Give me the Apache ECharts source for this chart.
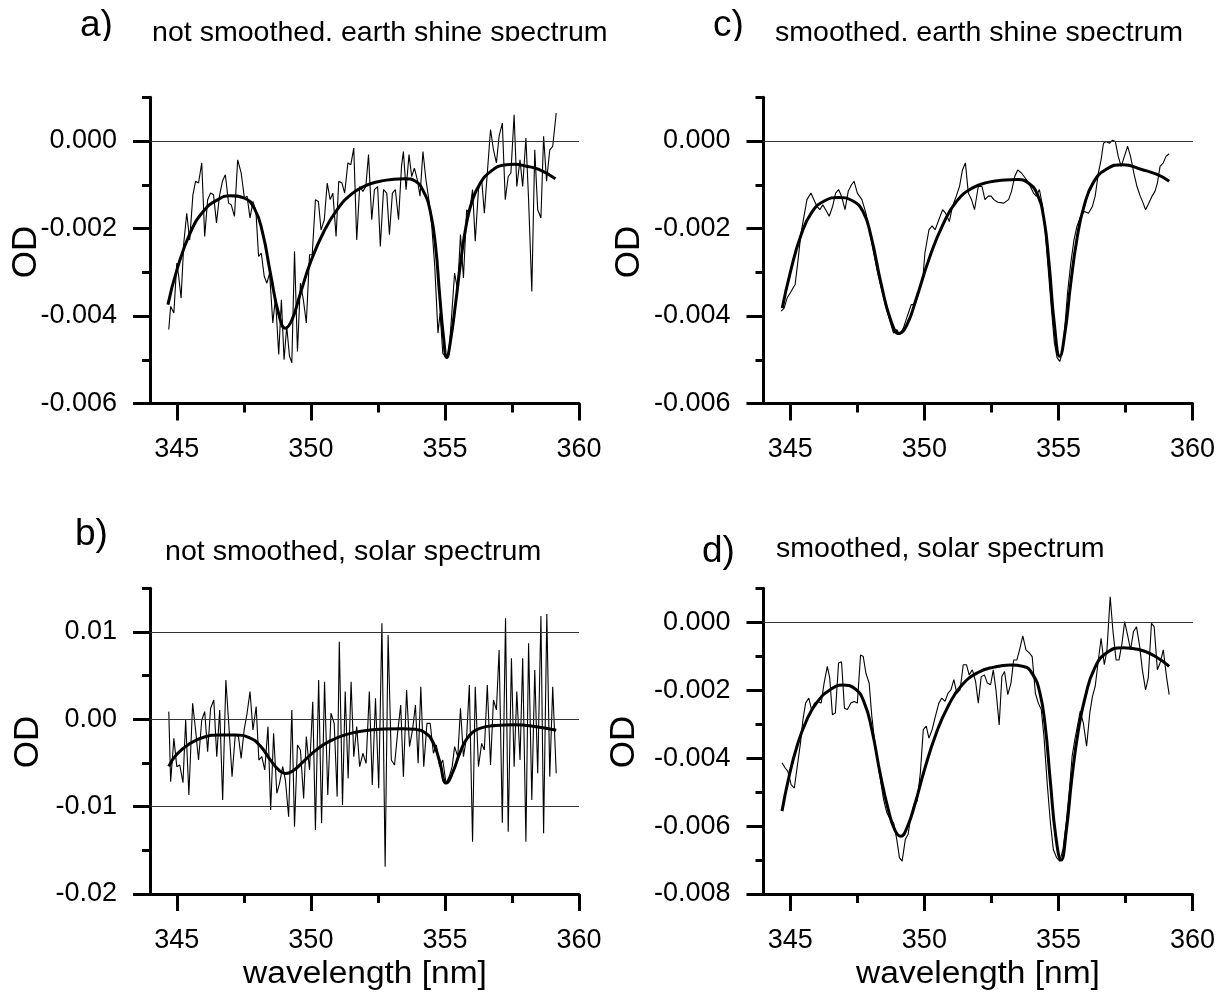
<!DOCTYPE html>
<html>
<head>
<meta charset="utf-8">
<script src="https://cdn.jsdelivr.net/npm/echarts@6/dist/echarts.min.js"></script>
<style>html,body{margin:0;padding:0;background:#fff}#c{width:1227px;height:996px}</style>
</head>
<body>
<div id="c"></div>
<script>
// ---- DATA (OD values in units of 1e-3) ----
const wlMajor = [345, 350, 355, 360];
const wlMinor = [347.5, 352.5, 357.5];

const odMajorA = [-0.006, -0.004, -0.002, 0];
const odMinorA = [-0.005, -0.003, -0.001, 0.001];
const gridValsA = [0, -0.002, -0.004];
const odMajorB = [-0.02, -0.01, 0, 0.01];
const odMinorB = [-0.015, -0.005, 0.005, 0.015];
const gridValsB = [0.01, 0, -0.01];
const odMajorD = [-0.008, -0.006, -0.004, -0.002, 0];
const odMinorD = [-0.007, -0.005, -0.003, -0.001, 0.001];
const gridValsD = [0, -0.002, -0.004, -0.006];

const noisyA = [[344.70,-4.31],[344.77,-3.78],[344.89,-3.93],[345.00,-2.79],[345.07,-3.09],[345.16,-3.59],[345.26,-2.33],[345.37,-1.65],[345.48,-2.26],[345.60,-1.23],[345.70,-0.92],[345.81,-0.96],[345.93,-0.50],[346.04,-2.18],[346.15,-1.34],[346.26,-1.19],[346.37,-1.23],[346.48,-1.87],[346.59,-1.26],[346.70,-0.92],[346.81,-0.77],[346.93,-1.42],[347.03,-1.46],[347.15,-1.72],[347.27,-0.43],[347.40,-0.73],[347.52,-1.30],[347.62,-1.26],[347.73,-1.76],[347.84,-1.38],[347.95,-1.61],[348.05,-2.64],[348.15,-2.56],[348.26,-3.09],[348.36,-3.25],[348.46,-3.02],[348.58,-4.16],[348.68,-3.59],[348.80,-4.88],[348.90,-3.63],[349.00,-5.00],[349.10,-4.24],[349.20,-4.91],[349.29,-5.07],[349.39,-2.52],[349.50,-4.81],[349.61,-3.25],[349.72,-3.63],[349.83,-4.16],[349.95,-2.60],[350.05,-2.60],[350.17,-1.34],[350.28,-1.38],[350.38,-2.03],[350.50,-1.80],[350.61,-0.96],[350.72,-1.34],[350.82,-1.19],[350.94,-2.18],[351.04,-0.92],[351.16,-0.96],[351.26,-1.19],[351.38,-0.50],[351.49,-0.54],[351.60,-0.16],[351.71,-2.26],[351.82,-1.04],[351.94,-1.15],[352.05,-1.04],[352.15,-0.31],[352.27,-1.80],[352.37,-1.11],[352.49,-1.04],[352.59,-2.41],[352.71,-1.11],[352.83,-1.19],[352.93,-2.14],[353.04,-1.19],[353.15,-1.11],[353.27,-1.80],[353.38,-0.58],[353.45,-0.24],[353.55,-1.11],[353.66,-0.31],[353.76,-0.81],[353.86,-0.62],[353.97,-0.88],[354.07,-1.26],[354.18,-0.24],[354.29,-0.88],[354.40,-1.34],[354.51,-1.95],[354.62,-2.86],[354.74,-4.39],[354.82,-3.93],[354.92,-4.85],[355.04,-4.96],[355.14,-4.88],[355.24,-4.08],[355.36,-3.02],[355.47,-3.40],[355.58,-2.14],[355.69,-3.13],[355.81,-1.57],[355.91,-1.65],[356.03,-1.11],[356.13,-2.29],[356.25,-1.11],[356.37,-0.88],[356.47,-1.65],[356.58,-0.73],[356.70,0.26],[356.81,-0.20],[356.92,-0.50],[357.02,0.11],[357.14,0.41],[357.25,-1.34],[357.36,-0.81],[357.46,-0.73],[357.58,0.60],[357.68,-1.04],[357.80,-0.43],[357.90,-1.04],[358.02,0.07],[358.12,-1.34],[358.24,-3.44],[358.35,-0.20],[358.46,-1.57],[358.58,-1.76],[358.68,0.11],[358.79,-0.92],[358.91,-0.20],[359.02,-0.12],[359.15,0.64]];
const fitA = [[344.67,-3.74],[345.00,-2.95],[345.50,-2.10],[346.00,-1.60],[346.50,-1.35],[347.00,-1.25],[347.50,-1.30],[347.90,-1.55],[348.20,-2.10],[348.50,-3.05],[348.80,-3.95],[349.05,-4.28],[349.30,-4.08],[349.60,-3.50],[350.00,-2.75],[350.50,-2.05],[351.00,-1.55],[351.50,-1.22],[352.00,-1.03],[352.50,-0.93],[353.00,-0.88],[353.50,-0.86],[353.90,-0.92],[354.20,-1.15],[354.45,-1.60],[354.65,-2.40],[354.80,-3.50],[354.95,-4.50],[355.07,-4.95],[355.20,-4.60],[355.40,-3.70],[355.60,-2.70],[355.80,-1.90],[356.00,-1.40],[356.30,-0.98],[356.70,-0.70],[357.20,-0.55],[357.60,-0.53],[358.00,-0.57],[358.50,-0.65],[359.12,-0.86]];

const noisyB = [[344.70,0.88],[344.77,-7.14],[344.89,-2.18],[345.00,-5.42],[345.11,-5.23],[345.23,-7.25],[345.33,-0.08],[345.45,-8.66],[345.59,1.83],[345.70,-1.22],[345.81,-4.66],[345.93,-0.08],[346.04,0.88],[346.15,-3.70],[346.26,1.26],[346.38,2.21],[346.49,-4.27],[346.60,1.07],[346.71,-9.24],[346.83,4.50],[346.94,-0.65],[347.06,-6.56],[347.18,-1.79],[347.30,-1.98],[347.40,-4.47],[347.51,-1.22],[347.62,0.69],[347.73,3.17],[347.84,-1.22],[347.96,1.45],[348.06,-4.66],[348.17,-4.27],[348.28,-5.80],[348.40,-0.84],[348.50,-10.38],[348.61,-1.60],[348.73,-8.47],[348.83,-7.33],[348.95,-5.42],[349.05,-6.95],[349.17,-11.15],[349.29,1.07],[349.39,-12.29],[349.50,-2.94],[349.61,-3.51],[349.73,-9.05],[349.83,-1.98],[349.95,-5.80],[350.07,2.02],[350.17,-12.67],[350.29,4.50],[350.40,-11.91],[350.51,4.31],[350.63,-8.66],[350.75,0.69],[350.87,-0.46],[350.98,-8.85],[351.06,8.89],[351.18,-9.81],[351.28,3.17],[351.39,-6.76],[351.50,4.31],[351.60,-4.27],[351.71,-0.84],[351.82,-5.42],[351.94,-3.89],[352.06,-5.04],[352.18,3.17],[352.29,-7.52],[352.41,2.40],[352.53,-7.90],[352.65,10.99],[352.77,-16.87],[352.88,9.66],[353.00,-4.66],[353.12,-5.23],[353.24,-1.41],[353.35,1.64],[353.45,-6.56],[353.57,3.36],[353.68,-3.13],[353.79,-1.22],[353.90,1.64],[354.00,-5.04],[354.10,3.74],[354.21,-5.42],[354.33,-0.46],[354.45,-0.46],[354.57,-3.89],[354.68,-2.94],[354.80,-5.42],[354.92,-4.66],[355.04,-7.33],[355.16,-6.56],[355.27,-5.42],[355.36,-3.13],[355.48,-4.27],[355.58,1.26],[355.69,-4.27],[355.81,-1.98],[355.91,3.93],[356.03,-14.01],[356.13,3.74],[356.25,-5.42],[356.37,-2.75],[356.47,-3.51],[356.58,3.93],[356.70,-5.23],[356.81,2.21],[356.92,1.07],[357.02,7.94],[357.14,-11.83],[357.26,11.56],[357.36,-12.86],[357.48,6.98],[357.58,-5.42],[357.68,3.17],[357.80,-4.66],[357.90,6.98],[358.02,-14.01],[358.12,8.70],[358.24,-9.24],[358.35,5.65],[358.46,-6.18],[358.58,11.83],[358.68,-13.05],[358.80,12.06],[358.91,-6.56],[359.02,3.74],[359.15,-6.18]];
const fitB = [[344.70,-5.40],[345.00,-4.00],[345.50,-2.75],[346.00,-2.05],[346.60,-1.80],[347.20,-1.80],[347.70,-2.10],[348.10,-3.00],[348.50,-4.70],[348.80,-5.80],[349.05,-6.20],[349.35,-5.85],[349.70,-4.90],[350.20,-3.50],[350.70,-2.50],[351.30,-1.75],[352.00,-1.30],[352.70,-1.12],[353.40,-1.08],[353.90,-1.15],[354.25,-1.50],[354.55,-2.60],[354.80,-4.80],[355.05,-7.30],[355.30,-6.00],[355.55,-3.90],[355.85,-2.10],[356.30,-1.05],[356.90,-0.70],[357.60,-0.62],[358.40,-0.85],[359.15,-1.25]];

const noisyC = [[344.66,-3.89],[344.77,-3.82],[344.88,-3.59],[345.00,-3.47],[345.18,-3.28],[345.29,-2.71],[345.40,-2.10],[345.51,-1.72],[345.62,-1.34],[345.77,-1.19],[345.88,-1.34],[345.99,-1.49],[346.10,-1.57],[346.21,-1.46],[346.32,-1.57],[346.45,-1.72],[346.58,-1.49],[346.69,-1.19],[346.80,-1.11],[346.91,-1.26],[347.04,-1.57],[347.16,-1.15],[347.28,-1.00],[347.38,-0.92],[347.50,-1.19],[347.67,-1.34],[347.82,-1.65],[347.97,-2.10],[348.11,-2.56],[348.26,-3.02],[348.41,-3.40],[348.56,-3.78],[348.70,-4.08],[348.85,-4.39],[348.97,-4.31],[349.08,-4.43],[349.22,-4.27],[349.36,-4.01],[349.51,-3.74],[349.66,-3.74],[349.80,-3.44],[349.95,-3.09],[350.02,-2.56],[350.17,-2.03],[350.29,-1.94],[350.40,-2.03],[350.54,-1.80],[350.68,-1.57],[350.79,-1.65],[350.93,-1.84],[351.05,-1.49],[351.19,-1.26],[351.31,-1.04],[351.42,-0.66],[351.53,-0.50],[351.64,-1.19],[351.76,-1.34],[351.87,-1.57],[352.01,-1.04],[352.15,-1.04],[352.26,-1.34],[352.38,-1.26],[352.49,-1.26],[352.59,-1.34],[352.74,-1.40],[352.96,-1.42],[353.14,-1.34],[353.25,-1.15],[353.37,-0.81],[353.48,-0.66],[353.62,-0.73],[353.77,-0.85],[353.92,-1.00],[354.07,-1.19],[354.17,-1.26],[354.29,-1.11],[354.41,-1.49],[354.51,-2.10],[354.61,-2.86],[354.73,-3.78],[354.85,-4.62],[354.95,-4.95],[355.05,-5.04],[355.14,-4.85],[355.24,-4.24],[355.34,-3.47],[355.46,-2.79],[355.58,-2.26],[355.69,-1.95],[355.83,-1.72],[355.97,-1.61],[356.12,-1.65],[356.27,-1.49],[356.37,-1.26],[356.49,-0.73],[356.59,-0.43],[356.68,-0.05],[356.78,-0.01],[356.90,-0.05],[357.02,0.02],[357.12,-0.01],[357.23,-0.35],[357.34,-0.58],[357.46,-0.35],[357.58,-0.12],[357.69,-0.35],[357.81,-0.73],[357.93,-1.04],[358.05,-1.26],[358.16,-1.42],[358.25,-1.57],[358.37,-1.42],[358.49,-1.26],[358.60,-1.15],[358.69,-0.96],[358.79,-0.58],[358.91,-0.50],[359.01,-0.35],[359.13,-0.29]];
const fitC = [[344.70,-3.82],[345.00,-3.00],[345.40,-2.15],[345.80,-1.63],[346.30,-1.36],[346.80,-1.29],[347.30,-1.36],[347.70,-1.60],[348.00,-2.15],[348.40,-3.30],[348.75,-4.10],[349.05,-4.40],[349.35,-4.20],[349.70,-3.60],[350.20,-2.65],[350.70,-1.90],[351.20,-1.38],[351.80,-1.07],[352.40,-0.94],[353.00,-0.89],[353.50,-0.88],[353.90,-0.97],[354.20,-1.20],[354.45,-1.75],[354.65,-2.80],[354.85,-4.20],[355.05,-4.92],[355.25,-4.35],[355.45,-3.30],[355.70,-2.20],[355.95,-1.50],[356.30,-0.95],[356.80,-0.64],[357.40,-0.54],[358.10,-0.65],[358.70,-0.77],[359.13,-0.92]];

const noisyD = [[344.69,-4.14],[344.81,-4.29],[344.91,-4.39],[345.03,-4.78],[345.15,-4.88],[345.26,-4.24],[345.38,-3.55],[345.47,-2.87],[345.57,-2.38],[345.69,-2.23],[345.79,-2.57],[345.91,-2.38],[346.03,-2.33],[346.15,-2.38],[346.26,-1.79],[346.38,-1.30],[346.47,-1.64],[346.57,-2.72],[346.68,-2.67],[346.80,-1.20],[346.91,-1.16],[347.02,-2.53],[347.13,-2.57],[347.26,-2.38],[347.38,-2.33],[347.50,-2.38],[347.62,-0.96],[347.72,-1.01],[347.82,-1.50],[347.94,-1.79],[348.04,-2.77],[348.14,-3.46],[348.26,-4.14],[348.38,-4.73],[348.48,-5.22],[348.60,-5.61],[348.73,-5.81],[348.85,-5.90],[348.97,-6.39],[349.07,-6.93],[349.17,-7.03],[349.29,-6.39],[349.39,-6.25],[349.51,-5.66],[349.63,-5.32],[349.73,-5.27],[349.85,-4.43],[349.96,-3.16],[350.07,-3.06],[350.17,-3.41],[350.29,-3.16],[350.41,-2.77],[350.54,-2.38],[350.65,-2.23],[350.77,-2.33],[350.88,-2.09],[350.99,-1.99],[351.10,-1.69],[351.21,-2.09],[351.33,-1.99],[351.45,-1.25],[351.57,-1.25],[351.67,-1.55],[351.79,-1.40],[351.91,-1.74],[352.01,-2.38],[352.12,-1.60],[352.24,-1.55],[352.35,-1.79],[352.47,-1.84],[352.57,-1.40],[352.67,-1.99],[352.79,-3.02],[352.89,-1.60],[352.99,-1.45],[353.11,-2.13],[353.23,-1.79],[353.33,-1.11],[353.45,-1.11],[353.55,-0.81],[353.67,-0.40],[353.79,-0.81],[353.92,-0.91],[354.02,-1.01],[354.14,-2.09],[354.25,-2.38],[354.36,-2.57],[354.46,-3.36],[354.58,-4.73],[354.70,-5.90],[354.81,-6.69],[354.93,-6.93],[355.05,-7.03],[355.17,-6.69],[355.29,-5.90],[355.41,-4.92],[355.51,-3.95],[355.61,-3.46],[355.73,-2.97],[355.81,-2.62],[355.93,-2.97],[356.05,-3.65],[356.17,-2.67],[356.27,-2.18],[356.37,-1.89],[356.49,-1.11],[356.59,-0.47],[356.71,-1.25],[356.81,-0.81],[356.93,0.75],[357.03,-0.23],[357.15,-1.11],[357.26,-1.11],[357.37,-0.62],[357.47,0.02],[357.59,-0.42],[357.69,-0.81],[357.80,-0.27],[357.91,-0.13],[358.03,-0.71],[358.13,-1.40],[358.25,-1.99],[358.35,-1.64],[358.47,-0.03],[358.57,-0.13],[358.69,-1.40],[358.79,-1.20],[358.91,-0.81],[359.03,-1.60],[359.13,-2.13]];
const fitD = [[344.69,-5.56],[344.95,-4.55],[345.25,-3.65],[345.60,-2.90],[346.00,-2.35],[346.50,-1.98],[346.95,-1.85],[347.40,-1.95],[347.75,-2.35],[348.05,-3.20],[348.35,-4.45],[348.65,-5.50],[348.90,-6.12],[349.12,-6.30],[349.35,-6.05],[349.65,-5.35],[350.00,-4.35],[350.45,-3.25],[350.90,-2.45],[351.40,-1.85],[352.00,-1.48],[352.60,-1.32],[353.20,-1.26],[353.70,-1.30],[354.05,-1.55],[354.30,-2.05],[354.50,-3.00],[354.70,-4.70],[354.90,-6.30],[355.10,-7.00],[355.30,-6.10],[355.50,-4.60],[355.75,-3.15],[356.00,-2.20],[356.35,-1.35],[356.80,-0.90],[357.40,-0.75],[358.00,-0.80],[358.60,-1.00],[359.13,-1.30]];

const titles = ['not smoothed. earth shine spectrum', 'not smoothed, solar spectrum', 'smoothed. earth shine spectrum', 'smoothed, solar spectrum'];
const letters = ['a)', 'b)', 'c)', 'd)'];
const yName = 'OD';
const xName = 'wavelength [nm]';

// ---- BUILD ----
const FONT = '"Liberation Sans", Arial, Helvetica, sans-serif';
const toOD = arr => arr.map(p => [p[0], p[1] / 1000]);

const panels = [
  { rect: { left: 150, top: 97.3, width: 429, height: 306.2 }, min: -0.006, max: 0.001, major: odMajorA, minor: odMinorA, lines: gridValsA, dec: 3, noisy: noisyA, fit: fitA },
  { rect: { left: 150, top: 588.3, width: 429, height: 305.7 }, min: -0.02, max: 0.015, major: odMajorB, minor: odMinorB, lines: gridValsB, dec: 2, noisy: noisyB, fit: fitB },
  { rect: { left: 763.5, top: 97.3, width: 429, height: 306.2 }, min: -0.006, max: 0.001, major: odMajorA, minor: odMinorA, lines: gridValsA, dec: 3, noisy: noisyC, fit: fitC },
  { rect: { left: 763.5, top: 588.3, width: 429, height: 305.7 }, min: -0.008, max: 0.001, major: odMajorD, minor: odMinorD, lines: gridValsD, dec: 3, noisy: noisyD, fit: fitD }
];

const grid = [], xAxis = [], yAxis = [], series = [];
panels.forEach((p, i) => {
  grid.push(Object.assign({ containLabel: false, outerBoundsMode: 'none' }, p.rect));
  xAxis.push({
    type: 'value', gridIndex: i, min: 344, max: 360, position: 'bottom',
    axisLine: { show: true, onZero: false, lineStyle: { color: '#000', width: 3 } },
    axisTick: { show: true, length: 17, customValues: wlMajor, lineStyle: { color: '#000', width: 3 } },
    axisLabel: { show: true, customValues: wlMajor, fontSize: 27, fontFamily: FONT, color: '#000', margin: 33 },
    splitLine: { show: false }
  });
  xAxis.push({
    type: 'value', gridIndex: i, min: 344, max: 360, position: 'bottom',
    axisLine: { show: false, onZero: false },
    axisTick: { show: true, length: 9, customValues: wlMinor, lineStyle: { color: '#000', width: 3 } },
    axisLabel: { show: false },
    splitLine: { show: false }
  });
  yAxis.push({
    type: 'value', gridIndex: i, min: p.min, max: p.max, position: 'left',
    axisLine: { show: true, onZero: false, lineStyle: { color: '#000', width: 3 } },
    axisTick: { show: true, length: 17, customValues: p.major, lineStyle: { color: '#000', width: 3 } },
    axisLabel: { show: true, customValues: p.major, fontSize: 27, fontFamily: FONT, color: '#000', margin: 33,
      formatter: v => Number(v).toFixed(p.dec) },
    splitLine: { show: false }
  });
  yAxis.push({
    type: 'value', gridIndex: i, min: p.min, max: p.max, position: 'left',
    axisLine: { show: false, onZero: false },
    axisTick: { show: true, length: 8, customValues: p.minor, lineStyle: { color: '#000', width: 3 } },
    axisLabel: { show: false },
    splitLine: { show: false }
  });
  series.push({
    type: 'line', xAxisIndex: 2 * i, yAxisIndex: 2 * i, data: toOD(p.noisy),
    showSymbol: false, symbol: 'none', lineStyle: { color: '#000', width: 1.1 }, z: 2,
    markLine: {
      silent: true, symbol: ['none', 'none'], label: { show: false },
      lineStyle: { color: '#333', width: 1, type: 'solid' },
      data: p.lines.map(v => ({ yAxis: v }))
    }
  });
  series.push({
    type: 'line', xAxisIndex: 2 * i, yAxisIndex: 2 * i, data: toOD(p.fit),
    showSymbol: false, symbol: 'none', smooth: 0.5,
    lineStyle: { color: '#000', width: 3 }, z: 3
  });
});

function txt(text, x, y, size, opts) {
  return Object.assign({
    type: 'text', x: x, y: y, z: 50,
    style: Object.assign({ text: text, fontSize: size, fontFamily: FONT, fill: '#000',
      align: 'left', verticalAlign: 'middle', textAlign: 'left', textVerticalAlign: 'middle' }, (opts && opts.style) || {})
  }, (opts && opts.el) || {});
}
const center = { align: 'center', textAlign: 'center' };
const graphic = [
  txt(letters[0], 80, 26, 37),
  txt(titles[0], 152, 33, 28, { el: { scaleX: 1.02 } }),
  txt(letters[2], 713, 26, 37),
  txt(titles[2], 775, 33, 28, { el: { scaleX: 1.02 } }),
  txt(letters[1], 75, 535, 37),
  txt(titles[1], 165, 552, 28, { el: { scaleX: 1.02 } }),
  txt(letters[3], 702, 552, 37),
  txt(titles[3], 776, 549, 28, { el: { scaleX: 1.02 } }),
  { type: 'rect', z: 60, shape: { x: 0, y: 41, width: 1227, height: 22 }, style: { fill: '#fff' } },
  txt(yName, 26, 252, 35, { style: center, el: { rotation: Math.PI / 2 } }),
  txt(yName, 28, 742, 35, { style: center, el: { rotation: Math.PI / 2 } }),
  txt(yName, 629, 252, 35, { style: center, el: { rotation: Math.PI / 2 } }),
  txt(yName, 624, 742, 35, { style: center, el: { rotation: Math.PI / 2 } }),
  txt(xName, 365, 974, 31, { style: center, el: { scaleX: 1.08 } }),
  txt(xName, 978, 974, 31, { style: center, el: { scaleX: 1.08 } })
];

const chart = echarts.init(document.getElementById('c'), null, { renderer: 'canvas' });
chart.setOption({
  animation: false,
  backgroundColor: '#fff',
  grid: grid, xAxis: xAxis, yAxis: yAxis, series: series, graphic: graphic
});
</script>
</body>
</html>
